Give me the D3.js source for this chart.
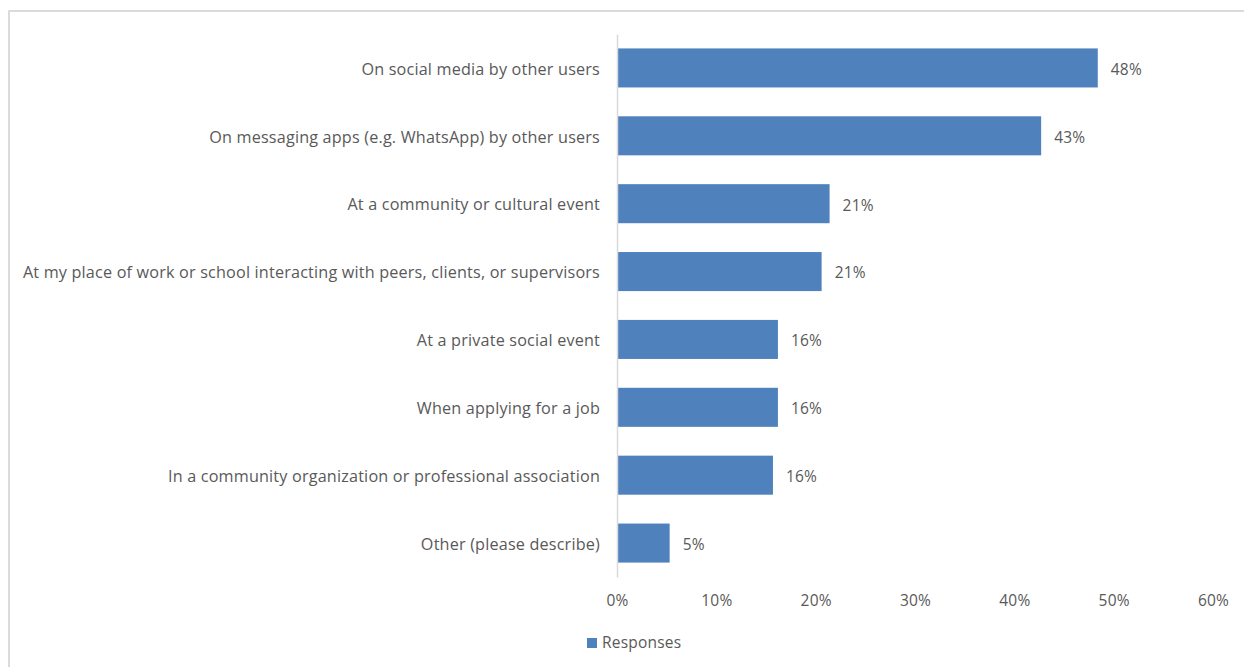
<!DOCTYPE html>
<html>
<head>
<meta charset="utf-8">
<script src="https://cdn.jsdelivr.net/npm/d3@7"></script>
<style>
  html, body { margin: 0; padding: 0; background: #ffffff; }
  svg { display: block; }
  text { font-family: "Open Sans", "Noto Sans", sans-serif; fill: #595959; }
</style>
</head>
<body>
<svg id="chart" width="1244" height="667"></svg>
<script>
// Where respondents reported the experience (share of responses)
const categories = [
  "On social media by other users",
  "On messaging apps (e.g. WhatsApp) by other users",
  "At a community or cultural event",
  "At my place of work or school interacting with peers, clients, or supervisors",
  "At a private social event",
  "When applying for a job",
  "In a community organization or professional association",
  "Other (please describe)"
];
const responses = [0.484, 0.427, 0.214, 0.206, 0.162, 0.162, 0.157, 0.053];
const xTicks = [0, 0.1, 0.2, 0.3, 0.4, 0.5, 0.6];
const seriesName = "Responses";

const data = categories.map((c, i) => ({ category: c, value: responses[i] }));

const svg = d3.select("#chart");
const W = 1244, H = 667;
const margin = { left: 617, right: 31, top: 34, bottom: 90 };
const barColor = "#4f81bd";
const fmt = d3.format(".0%");
const fontFamily = "\"Open Sans\", \"Noto Sans\", sans-serif";
const labelSize = 16.2;
const numberSize = 15.5;

// outer frame of the chart area
svg.append("rect")
  .attr("x", 9).attr("y", 11)
  .attr("width", W + 20).attr("height", H + 20)
  .attr("fill", "#ffffff")
  .attr("stroke", "#d0d0d0")
  .attr("stroke-width", 1.5);

const x = d3.scaleLinear()
  .domain([0, 0.6])
  .range([margin.left, W - margin.right]);

const y = d3.scaleBand()
  .domain(categories)
  .range([margin.top, H - margin.bottom])
  .paddingInner(0.425)
  .paddingOuter(0.2125);

// bars
svg.append("g")
  .selectAll("rect")
  .data(data)
  .join("rect")
  .attr("x", x(0))
  .attr("y", d => y(d.category))
  .attr("width", d => x(d.value) - x(0))
  .attr("height", y.bandwidth())
  .attr("fill", barColor);

// value labels
svg.append("g")
  .selectAll("text")
  .data(data)
  .join("text")
  .attr("x", d => x(d.value) + 13)
  .attr("y", d => y(d.category) + y.bandwidth() / 2 + 1.5)
  .attr("dy", "0.35em")
  .attr("font-size", numberSize)
  .attr("letter-spacing", 0.2)
  .text(d => fmt(d.value));

// category axis (left)
const yAxis = svg.append("g")
  .attr("transform", `translate(${x(0)},1.5)`)
  .call(d3.axisLeft(y).tickSize(0).tickPadding(17));
yAxis.select(".domain")
  .attr("transform", "translate(0,-1.5)")
  .attr("stroke", "#d9d9d9").attr("stroke-width", 1.5);
yAxis.selectAll("text")
  .attr("font-size", labelSize)
  .attr("letter-spacing", 0.18)
  .attr("fill", "#595959")
  .style("font-family", fontFamily);

// value axis (bottom), labels only
const xAxis = svg.append("g")
  .attr("transform", `translate(0,${H - margin.bottom})`)
  .call(d3.axisBottom(x).tickValues(xTicks).tickFormat(fmt).tickSize(0).tickPadding(18));
xAxis.select(".domain").remove();
xAxis.selectAll("text")
  .attr("font-size", numberSize)
  .attr("letter-spacing", 0.2)
  .attr("fill", "#595959")
  .style("font-family", fontFamily);

// legend
const legend = svg.append("g").attr("transform", "translate(587,638)");
legend.append("rect")
  .attr("width", 10).attr("height", 10)
  .attr("fill", barColor);
legend.append("text")
  .attr("x", 15).attr("y", 5)
  .attr("dy", "0.35em")
  .attr("font-size", numberSize)
  .attr("letter-spacing", 0.2)
  .text(seriesName);
</script>
</body>
</html>
